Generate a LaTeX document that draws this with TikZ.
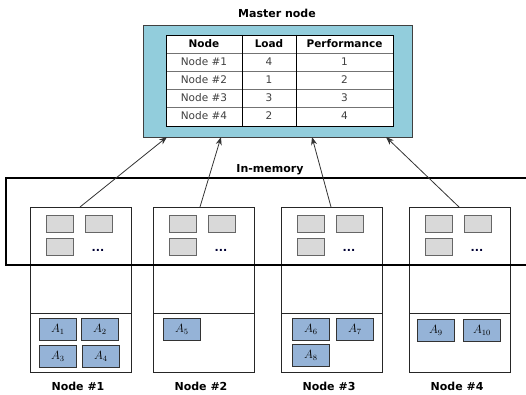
\documentclass[tikz,border=0pt]{standalone}
\usepackage{fontspec}
\setmainfont{DejaVu Sans}
\usetikzlibrary{arrows.meta}
\definecolor{mfill}{HTML}{92CDDC}
\definecolor{bfill}{HTML}{95B3D7}
\definecolor{gfill}{HTML}{D9D9D9}
\begin{document}
\begin{tikzpicture}[x=1pt,y=-1pt,
  nodecol/.style={draw=black!85,line width=0.9pt,minimum width=101pt,minimum height=165pt,inner sep=0pt,anchor=north west},
  membox/.style={draw=black!60,fill=gfill,line width=1pt,minimum width=27pt,minimum height=17pt,inner sep=0pt,anchor=north west},
  ablock/.style={draw=black!80,fill=bfill,line width=0.9pt,minimum width=37pt,minimum height=22pt,inner sep=0pt,anchor=north west,font=\fontsize{12}{14}\selectfont},
  dots/.style={font=\bfseries\fontsize{11}{12}\selectfont,text=black!80!blue,inner sep=0pt},
  lbl/.style={font=\bfseries\fontsize{11}{12}\selectfont,inner sep=0pt},
  cell/.style={font=\fontsize{10.5}{12}\selectfont,inner sep=0pt,text=black!75},
  hcell/.style={font=\bfseries\fontsize{10.5}{12}\selectfont,inner sep=0pt},
  arr/.style={-{Stealth[length=8pt,width=6pt]},line width=0.8pt,draw=black!80}]
\useasboundingbox (0,0) rectangle (526,395);
% master node
\node[lbl] (mtitle) at (277,13) {Master node};
\node[draw=black!75,fill=mfill,line width=1.3pt,minimum width=269pt,minimum height=112pt,inner sep=0pt,anchor=north west] (master) at (143,25) {};
\node[draw=black,fill=white,line width=1pt,minimum width=227pt,minimum height=91pt,inner sep=0pt,anchor=north west] (tab) at (166,35) {};
\foreach \y in {53,71,89,107} \draw[black!55,line width=0.8pt] (166,\y) -- (393,\y);
\draw[black,line width=1pt] (242,35) -- (242,126) (296,35) -- (296,126);
\node[draw=black,line width=1pt,minimum width=227pt,minimum height=91pt,inner sep=0pt,anchor=north west] at (166,35) {};
\node[hcell] (h1) at (204,44) {Node};
\node[hcell] (h2) at (269,44) {Load};
\node[hcell] (h3) at (344.5,44) {Performance};
\foreach \r/\l [count=\i] in {4/1,1/2,3/3,2/4}{
  \node[cell] (c\i a) at (204,44+18*\i) {Node \#\i};
  \node[cell] (c\i b) at (269,44+18*\i) {\r};
  \node[cell] (c\i c) at (344.5,44+18*\i) {\l};
}
% in-memory
\node[lbl] (imlbl) at (270,170) {In-memory};
% node columns
\foreach \x/\n in {30/1,153/2,281/3,409/4}{
  \node[nodecol] (n\n) at (\x,207) {};
  \draw[black!85,line width=0.9pt] (\x,313) -- (\x+101,313);
  \node[membox] (g\n a) at (\x+16,215) {};
  \node[membox] (g\n b) at (\x+55,215) {};
  \node[membox] (g\n c) at (\x+16,238) {};
  \node[dots] (d\n) at (\x+68,250) {...};
  \node[lbl] (nl\n) at (\x+48,386) {Node \#\n};
}
\draw[black,line width=2pt] (527,178) -- (6,178) -- (6,265) -- (527,265);
% data blocks
\node[ablock] (a1) at (39,318) {$A_1$};
\node[ablock] (a2) at (81,318) {$A_2$};
\node[ablock] (a3) at (39,345) {$A_3$};
\node[ablock] (a4) at (82,345) {$A_4$};
\node[ablock] (a5) at (163,318) {$A_5$};
\node[ablock] (a6) at (292,318) {$A_6$};
\node[ablock] (a7) at (336,318) {$A_7$};
\node[ablock] (a8) at (292,344) {$A_8$};
\node[ablock] (a9) at (417,319) {$A_9$};
\node[ablock] (a10) at (463,319) {$A_{10}$};
% arrows
\coordinate (t1) at (80,207);  \coordinate (e1) at (167,137);
\coordinate (t2) at (200,207); \coordinate (e2) at (221,137);
\coordinate (t3) at (331,207); \coordinate (e3) at (312,137);
\coordinate (t4) at (459,207); \coordinate (e4) at (386,137);
\foreach \i in {1,2,3,4} \draw[arr] (t\i) -- (e\i);
\end{tikzpicture}
\end{document}
